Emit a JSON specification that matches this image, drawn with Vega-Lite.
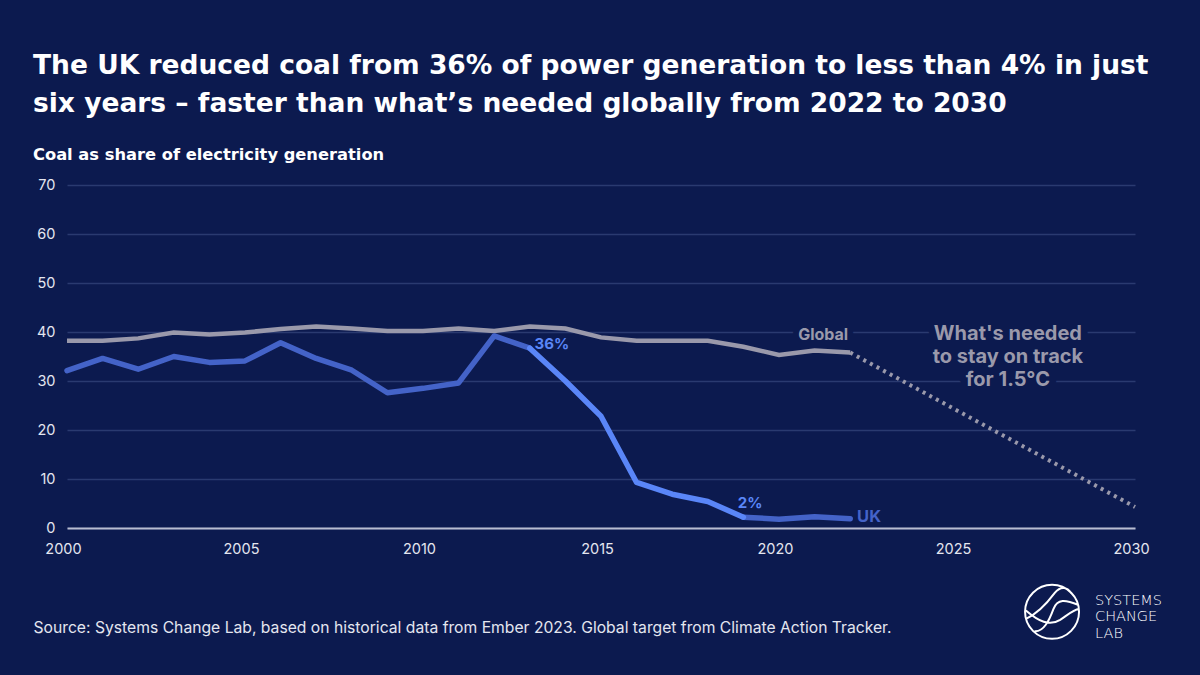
{
  "$schema": "https://vega.github.io/schema/vega-lite/v6.json",
  "width": 1068,
  "height": 343,
  "autosize": {"type": "none"},
  "padding": {"left": 67, "top": 185, "right": 65, "bottom": 147},
  "background": "#0c1a4f",
  "config": {
    "view": {"stroke": null},
    "font": "Inter",
    "text": {"font": "Inter"}
  },
  "title": {
    "text": ["The UK reduced coal from 36% of power generation to less than 4% in just", "six years – faster than what’s needed globally from 2022 to 2030"],
    "subtitle": "Coal as share of electricity generation",
    "anchor": "start",
    "frame": "group",
    "dx": -34,
    "offset": 14,
    "font": "DejaVu Sans",
    "fontSize": 26.5,
    "fontWeight": 700,
    "color": "#ffffff",
    "lineHeight": 38,
    "subtitleFont": "DejaVu Sans",
    "subtitleFontSize": 16.3,
    "subtitleFontWeight": 700,
    "subtitleColor": "#ffffff",
    "subtitlePadding": 29
  },
  "datasets": {
    "uk": [
      {"year": 2000, "share": 32.1}, {"year": 2001, "share": 34.6}, {"year": 2002, "share": 32.4},
      {"year": 2003, "share": 35.0}, {"year": 2004, "share": 33.8}, {"year": 2005, "share": 34.1},
      {"year": 2006, "share": 37.8}, {"year": 2007, "share": 34.6}, {"year": 2008, "share": 32.2},
      {"year": 2009, "share": 27.6}, {"year": 2010, "share": 28.5}, {"year": 2011, "share": 29.6},
      {"year": 2012, "share": 39.2}, {"year": 2013, "share": 36.7}, {"year": 2014, "share": 30.0},
      {"year": 2015, "share": 22.8}, {"year": 2016, "share": 9.3}, {"year": 2017, "share": 6.9},
      {"year": 2018, "share": 5.4}, {"year": 2019, "share": 2.2}, {"year": 2020, "share": 1.8},
      {"year": 2021, "share": 2.3}, {"year": 2022, "share": 1.9}
    ],
    "global": [
      {"year": 2000, "share": 38.2}, {"year": 2001, "share": 38.2}, {"year": 2002, "share": 38.7},
      {"year": 2003, "share": 39.9}, {"year": 2004, "share": 39.5}, {"year": 2005, "share": 39.9},
      {"year": 2006, "share": 40.6}, {"year": 2007, "share": 41.1}, {"year": 2008, "share": 40.7},
      {"year": 2009, "share": 40.2}, {"year": 2010, "share": 40.2}, {"year": 2011, "share": 40.7},
      {"year": 2012, "share": 40.2}, {"year": 2013, "share": 41.1}, {"year": 2014, "share": 40.7},
      {"year": 2015, "share": 38.9}, {"year": 2016, "share": 38.2}, {"year": 2017, "share": 38.2},
      {"year": 2018, "share": 38.2}, {"year": 2019, "share": 37.0}, {"year": 2020, "share": 35.3},
      {"year": 2021, "share": 36.2}, {"year": 2022, "share": 35.8}, {"year": 2030, "share": 4.3}
    ],
    "labels": [
      {"kind": "global", "year": 2021.24, "share": 39.4, "label": "Global"},
      {"kind": "needed", "year": 2026.43, "share": 39.6, "label": "What's needed\nto stay on track\nfor 1.5°C"},
      {"kind": "pct36", "year": 2013.62, "share": 37.55, "label": "36%"},
      {"kind": "pct2", "year": 2019.19, "share": 5.1, "label": "2%"},
      {"kind": "uk", "year": 2022.53, "share": 2.24, "label": "UK"}
    ],
    "logo": [
      {"year": 2027.67, "share": -17.1, "label": "SYSTEMS\nCHANGE\nLAB"}
    ]
  },
  "encoding": {
    "x": {
      "field": "year", "type": "quantitative",
      "scale": {"domain": [2000, 2030], "nice": false, "zero": false},
      "axis": {
        "values": [2000, 2005, 2010, 2015, 2020, 2025, 2030],
        "format": "d",
        "grid": false, "ticks": false,
        "domain": true, "domainColor": "#b9bdd1", "domainWidth": 2,
        "labelFont": "Inter", "labelFontSize": 14.5, "labelColor": "#e4e6ef",
        "labelPadding": 14, "labelOffset": -4, "labelFlush": false,
        "zindex": 1,
        "title": "Source: Systems Change Lab, based on historical data from Ember 2023. Global target from Climate Action Tracker.",
        "titleFont": "Inter", "titleFontSize": 15.7, "titleFontWeight": 400, "titleColor": "#e4e6ef",
        "titleAnchor": "start", "titleAlign": "left", "titleBaseline": "alphabetic",
        "titleX": -34, "titleY": 104
      }
    },
    "y": {
      "field": "share", "type": "quantitative",
      "scale": {"domain": [0, 70], "nice": false},
      "axis": {
        "values": [0, 10, 20, 30, 40, 50, 60, 70],
        "grid": true, "gridColor": "#2a3a70", "gridWidth": 1.5,
        "domain": false, "ticks": false,
        "labelFont": "Inter", "labelFontSize": 14.5, "labelColor": "#e4e6ef",
        "labelPadding": 12,
        "title": null
      }
    }
  },
  "layer": [
    {
      "data": {"name": "labels"},
      "transform": [{"filter": "datum.kind == 'global'"}],
      "mark": {"type": "text", "fontWeight": 700, "fontSize": 16, "stroke": "#0c1a4f", "strokeWidth": 12, "strokeJoin": "round", "fill": "#0c1a4f"},
      "encoding": {"text": {"field": "label"}}
    },
    {
      "data": {"name": "labels"},
      "transform": [{"filter": "datum.kind == 'needed'"}],
      "mark": {"type": "text", "fontWeight": 700, "fontSize": 20, "lineBreak": "\n", "lineHeight": 23, "stroke": "#0c1a4f", "strokeWidth": 14, "strokeJoin": "round", "fill": "#0c1a4f"},
      "encoding": {"text": {"field": "label"}}
    },
    {
      "data": {"name": "global"},
      "transform": [{"filter": "datum.year <= 2022"}],
      "mark": {"type": "line", "color": "#9a99ab", "strokeWidth": 4.5, "strokeCap": "butt"}
    },
    {
      "data": {"name": "global"},
      "transform": [{"filter": "datum.year >= 2022"}],
      "mark": {"type": "line", "color": "#9a99ab", "strokeWidth": 4, "strokeDash": [3, 4.5], "strokeCap": "butt"}
    },
    {
      "data": {"name": "uk"},
      "transform": [{"filter": "datum.year <= 2013"}],
      "mark": {"type": "line", "color": "#4463c8", "strokeWidth": 5.5, "strokeCap": "round", "strokeJoin": "round"}
    },
    {
      "data": {"name": "uk"},
      "transform": [{"filter": "datum.year >= 2019"}],
      "mark": {"type": "line", "color": "#4463c8", "strokeWidth": 5.5, "strokeCap": "round", "strokeJoin": "round"}
    },
    {
      "data": {"name": "uk"},
      "transform": [{"filter": "datum.year >= 2013 && datum.year <= 2019"}],
      "mark": {"type": "line", "color": "#5a86f8", "strokeWidth": 5.5, "strokeCap": "round", "strokeJoin": "round"}
    },
    {
      "data": {"name": "labels"},
      "transform": [{"filter": "datum.kind == 'global'"}],
      "mark": {"type": "text", "fontWeight": 700, "fontSize": 16, "color": "#9a99ab"},
      "encoding": {"text": {"field": "label"}}
    },
    {
      "data": {"name": "labels"},
      "transform": [{"filter": "datum.kind == 'needed'"}],
      "mark": {"type": "text", "fontWeight": 700, "fontSize": 20, "lineBreak": "\n", "lineHeight": 23, "color": "#9a99ab"},
      "encoding": {"text": {"field": "label"}}
    },
    {
      "data": {"name": "labels"},
      "transform": [{"filter": "datum.kind == 'pct36' || datum.kind == 'pct2'"}],
      "mark": {"type": "text", "fontWeight": 700, "fontSize": 15, "color": "#5a86f8"},
      "encoding": {"text": {"field": "label"}}
    },
    {
      "data": {"name": "labels"},
      "transform": [{"filter": "datum.kind == 'uk'"}],
      "mark": {"type": "text", "fontWeight": 700, "fontSize": 16.5, "color": "#4463c8"},
      "encoding": {"text": {"field": "label"}}
    },
    {
      "data": {"name": "logo"},
      "mark": {
        "type": "point", "filled": false, "clip": false, "color": "#ffffff", "strokeWidth": 2, "size": 2916, "opacity": 1,
        "shape": "M-1,0A1,1,0,1,1,1,0A1,1,0,1,1,-1,0Z M-0.95,0.25C-0.5,0.05,-0.2,-0.3,0.1,-0.7C0.3,-0.95,0.55,-0.95,0.72,-0.68 M-0.65,0.72C-0.3,0.75,-0.1,0.3,0.05,-0.1C0.2,-0.5,0.5,-0.45,0.98,-0.25 M-0.97,-0.05C-0.5,0.35,-0.1,0.55,0.3,0.3C0.6,0.1,0.8,-0.08,1,-0.1"
      }
    },
    {
      "data": {"name": "logo"},
      "mark": {"type": "text", "clip": false, "align": "left", "baseline": "middle", "dx": 43, "dy": -11, "lineBreak": "\n", "lineHeight": 16.5, "font": "DejaVu Sans", "fontSize": 14.5, "fontWeight": 300, "color": "#ffffff"},
      "encoding": {"text": {"field": "label"}}
    }
  ]
}
